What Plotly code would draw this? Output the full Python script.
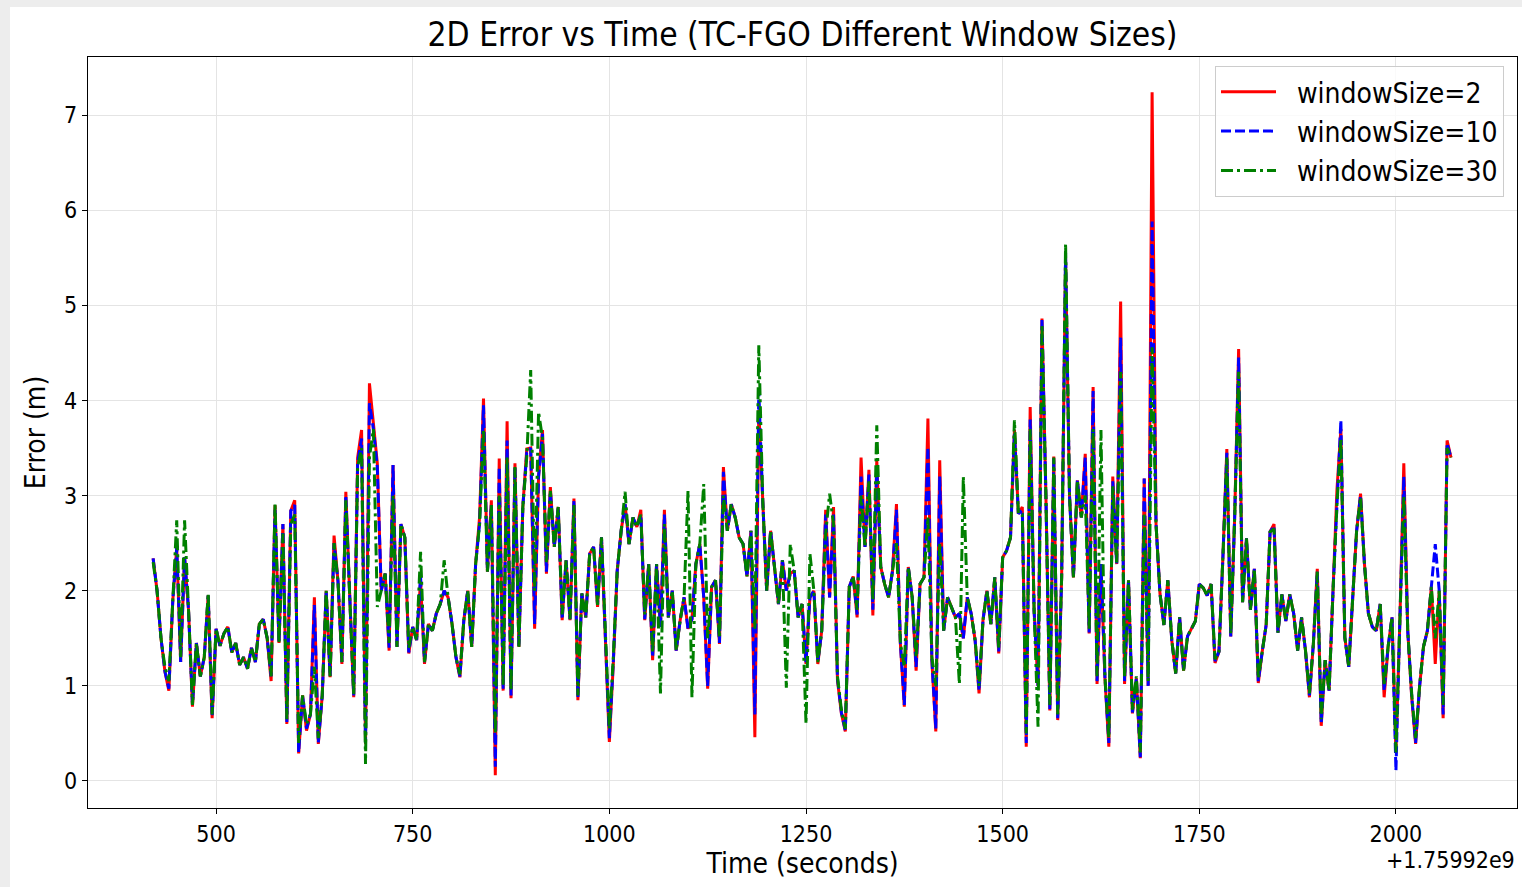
import plotly.graph_objects as go

# time offset from 1.75992e9 (seconds), one sample every 5 s
time_s = list(range(420, 2071, 5))

ws2 = [
    2.34, 2.0, 1.5, 1.15, 0.95, 1.9, 2.45, 1.25, 2.35, 1.8,
    0.78, 1.45, 1.1, 1.3, 1.95, 0.66, 1.6, 1.42, 1.55, 1.62,
    1.35, 1.45, 1.22, 1.3, 1.18, 1.4, 1.25, 1.65, 1.7, 1.5,
    1.05, 2.9, 1.45, 2.7, 0.6, 2.84, 2.95, 0.29, 0.9, 0.53,
    0.7, 1.93, 0.39, 0.9, 2.0, 1.09, 2.58, 2.1, 1.23, 3.04,
    1.93, 0.88, 3.4, 3.69, 0.39, 4.18, 3.76, 3.34, 2.0, 2.18,
    1.37, 3.32, 1.41, 2.7, 2.56, 1.34, 1.62, 1.48, 2.1, 1.23,
    1.65, 1.58, 1.76, 1.86, 2.0, 1.93, 1.65, 1.3, 1.09, 1.69,
    2.0, 1.41, 2.28, 2.77, 4.02, 2.2, 2.95, 0.06, 3.39, 0.95,
    3.78, 0.87, 3.34, 1.41, 2.88, 3.49, 3.5, 1.6, 3.2, 3.69,
    2.18, 3.09, 2.46, 2.88, 1.69, 2.32, 1.69, 2.97, 0.85, 1.97,
    1.72, 2.39, 2.46, 1.83, 2.56, 1.41, 0.41, 1.23, 2.21, 2.63,
    2.91, 2.49, 2.77, 2.67, 2.85, 1.69, 2.28, 1.27, 2.28, 1.62,
    2.85, 1.72, 2.0, 1.37, 1.69, 1.93, 1.6, 1.7, 2.28, 2.49,
    1.93, 0.97, 2.04, 2.11, 1.44, 3.3, 2.63, 2.91, 2.77, 2.56,
    2.49, 2.15, 2.63, 0.46, 3.9, 2.95, 2.0, 2.63, 2.21, 1.86,
    2.32, 2.0, 2.18, 2.21, 1.72, 1.86, 1.23, 1.93, 2.0, 1.23,
    1.58, 2.85, 1.93, 2.88, 1.06, 0.71, 0.52, 2.04, 2.15, 1.72,
    3.4, 2.46, 3.27, 1.74, 3.37, 2.25, 2.07, 1.93, 2.21, 2.91,
    1.44, 0.78, 2.25, 1.93, 1.16, 2.07, 2.14, 3.81, 1.27, 0.52,
    3.37, 1.58, 1.93, 1.83, 1.72, 1.76, 1.5, 1.93, 1.76, 1.48,
    0.92, 1.69, 2.0, 1.65, 2.14, 1.34, 2.35, 2.42, 2.56, 3.69,
    2.81, 2.88, 0.36, 3.93, 1.79, 1.0, 4.86, 3.0, 0.74, 3.41,
    0.64, 2.14, 5.5, 3.0, 2.14, 3.16, 2.77, 3.44, 1.55, 4.14,
    1.02, 2.28, 1.09, 0.36, 3.2, 2.28, 5.04, 1.02, 2.11, 0.71,
    1.08, 0.24, 3.18, 1.0, 7.24, 2.7, 1.97, 1.64, 2.11, 1.48,
    1.13, 1.72, 1.16, 1.52, 1.6, 1.68, 2.07, 2.03, 1.95, 2.07,
    1.24, 1.36, 2.35, 3.49, 1.52, 2.78, 4.54, 1.88, 2.55, 1.8,
    2.23, 1.03, 1.36, 1.64, 2.62, 2.7, 1.56, 1.96, 1.68, 1.96,
    1.76, 1.37, 1.72, 1.37, 0.88, 1.44, 2.23, 0.58, 1.27, 0.95,
    2.0, 3.06, 3.7, 1.51, 1.2, 1.93, 2.63, 3.02, 2.28, 1.76,
    1.62, 1.58, 1.86, 0.88, 1.41, 1.72, 0.3, 1.69, 3.34, 1.58,
    0.88, 0.39, 0.99, 1.41, 1.58, 2.04, 1.23, 2.0, 0.66, 3.58,
    3.4,
]

ws10 = [
    2.34, 2.0, 1.5, 1.15, 0.97, 1.9, 2.45, 1.25, 2.35, 1.8,
    0.8, 1.45, 1.1, 1.3, 1.95, 0.68, 1.6, 1.42, 1.55, 1.62,
    1.35, 1.45, 1.22, 1.3, 1.18, 1.4, 1.25, 1.65, 1.7, 1.5,
    1.1, 2.85, 1.45, 2.7, 0.62, 2.84, 2.9, 0.3, 0.9, 0.55,
    0.7, 1.85, 0.4, 0.9, 2.0, 1.1, 2.5, 2.1, 1.25, 3.0,
    1.93, 0.9, 3.35, 3.6, 0.4, 3.97, 3.7, 3.3, 2.0, 2.18,
    1.4, 3.32, 1.41, 2.7, 2.56, 1.35, 1.62, 1.48, 2.15, 1.25,
    1.65, 1.58, 1.76, 1.86, 2.0, 1.93, 1.65, 1.3, 1.1, 1.69,
    2.0, 1.41, 2.28, 2.7, 3.95, 2.2, 2.9, 0.15, 3.3, 0.97,
    3.58, 0.9, 3.3, 1.41, 2.88, 3.45, 3.5, 1.65, 3.2, 3.65,
    2.2, 3.05, 2.46, 2.88, 1.7, 2.32, 1.7, 2.95, 0.87, 1.97,
    1.72, 2.39, 2.46, 1.85, 2.56, 1.43, 0.45, 1.25, 2.21, 2.63,
    2.91, 2.49, 2.77, 2.67, 2.8, 1.7, 2.28, 1.3, 2.28, 1.62,
    2.8, 1.72, 2.0, 1.37, 1.69, 1.93, 1.6, 1.7, 2.28, 2.49,
    1.93, 1.0, 2.04, 2.11, 1.45, 3.25, 2.63, 2.91, 2.77, 2.56,
    2.49, 2.15, 2.63, 0.7, 4.1, 2.95, 2.0, 2.63, 2.21, 1.86,
    2.32, 2.0, 2.18, 2.21, 1.72, 1.86, 1.25, 1.93, 2.0, 1.25,
    1.58, 2.8, 1.93, 2.8, 1.08, 0.72, 0.53, 2.04, 2.15, 1.75,
    3.2, 2.46, 3.22, 1.8, 3.3, 2.25, 2.07, 1.93, 2.21, 2.85,
    1.45, 0.8, 2.25, 1.93, 1.2, 2.07, 2.14, 3.51, 1.28, 0.55,
    3.2, 1.58, 1.93, 1.83, 1.72, 1.76, 1.5, 1.93, 1.76, 1.48,
    0.95, 1.69, 2.0, 1.65, 2.14, 1.36, 2.35, 2.42, 2.56, 3.65,
    2.81, 2.85, 0.4, 3.8, 1.79, 1.0, 4.86, 3.0, 0.75, 3.4,
    0.66, 2.14, 5.55, 3.0, 2.14, 3.16, 2.77, 3.4, 1.56, 4.1,
    1.05, 2.28, 1.1, 0.4, 3.15, 2.28, 4.66, 1.05, 2.11, 0.72,
    1.08, 0.25, 3.18, 1.0, 5.88, 2.7, 1.97, 1.64, 2.11, 1.48,
    1.13, 1.72, 1.16, 1.52, 1.6, 1.68, 2.07, 2.03, 1.95, 2.07,
    1.26, 1.36, 2.35, 3.45, 1.52, 2.78, 4.45, 1.88, 2.55, 1.8,
    2.23, 1.05, 1.36, 1.64, 2.62, 2.68, 1.56, 1.96, 1.68, 1.96,
    1.76, 1.37, 1.72, 1.37, 0.9, 1.44, 2.2, 0.6, 1.27, 0.95,
    2.0, 2.95, 3.79, 1.51, 1.2, 1.93, 2.63, 3.0, 2.28, 1.76,
    1.62, 1.58, 1.86, 0.95, 1.41, 1.72, 0.11, 1.69, 3.2, 1.58,
    0.9, 0.4, 0.99, 1.41, 1.58, 2.04, 2.49, 2.0, 0.7, 3.55,
    3.4,
]

ws30 = [
    2.3, 2.0, 1.5, 1.2, 1.05, 1.9, 2.74, 1.3, 2.74, 1.8,
    0.8, 1.45, 1.1, 1.3, 1.97, 0.7, 1.6, 1.42, 1.55, 1.62,
    1.35, 1.45, 1.22, 1.3, 1.18, 1.4, 1.25, 1.65, 1.7, 1.5,
    1.1, 2.92, 1.45, 2.6, 0.65, 2.7, 2.8, 0.4, 0.9, 0.6,
    0.7, 1.2, 0.45, 0.9, 2.0, 1.1, 2.5, 2.1, 1.25, 2.95,
    1.93, 0.9, 3.3, 3.5, 0.18, 3.4, 3.7, 1.83, 2.0, 2.18,
    1.45, 3.0, 1.41, 2.7, 2.56, 1.4, 1.62, 1.48, 2.41, 1.25,
    1.65, 1.58, 1.76, 1.86, 2.32, 1.93, 1.65, 1.3, 1.12, 1.69,
    2.0, 1.41, 2.28, 2.7, 3.7, 2.2, 2.9, 0.5, 3.0, 1.0,
    3.4, 0.95, 3.3, 1.41, 2.88, 3.4, 4.32, 2.0, 3.88, 3.6,
    2.3, 3.05, 2.46, 2.88, 1.75, 2.32, 1.7, 2.9, 0.9, 1.97,
    1.72, 2.39, 2.46, 1.85, 2.56, 1.45, 0.55, 1.3, 2.21, 2.63,
    3.04, 2.49, 2.77, 2.67, 2.8, 1.75, 2.28, 1.35, 2.28, 0.92,
    2.7, 1.72, 2.0, 1.37, 1.69, 1.93, 3.05, 0.88, 2.28, 2.49,
    3.12, 1.5, 2.04, 2.11, 1.5, 3.0, 2.63, 2.91, 2.77, 2.56,
    2.49, 2.15, 2.63, 1.6, 4.58, 2.95, 2.0, 2.63, 2.21, 1.86,
    2.32, 0.98, 2.49, 2.21, 1.72, 1.86, 0.6, 2.39, 2.0, 1.25,
    1.58, 2.6, 3.02, 2.7, 1.1, 0.75, 0.55, 2.04, 2.15, 1.8,
    3.0, 2.46, 3.15, 1.9, 3.74, 2.25, 2.07, 1.93, 2.21, 2.5,
    1.45, 1.2, 2.25, 1.93, 1.3, 2.07, 2.14, 2.77, 1.3, 1.0,
    2.5, 1.58, 1.93, 1.83, 1.72, 1.02, 3.2, 1.93, 1.76, 1.48,
    1.0, 1.69, 2.0, 1.65, 2.14, 1.4, 2.35, 2.42, 2.56, 3.79,
    2.81, 2.8, 0.5, 3.7, 1.79, 0.57, 4.8, 3.0, 0.8, 3.4,
    0.7, 2.14, 5.65, 3.0, 2.14, 3.16, 2.77, 3.0, 1.6, 3.7,
    1.1, 3.69, 1.1, 0.45, 3.1, 2.28, 4.3, 1.1, 2.11, 0.75,
    1.1, 0.3, 2.8, 1.05, 4.56, 2.7, 1.97, 1.64, 2.11, 1.48,
    1.13, 1.72, 1.16, 1.52, 1.6, 1.68, 2.07, 2.03, 1.95, 2.07,
    1.28, 1.36, 2.35, 3.4, 1.55, 2.78, 4.3, 1.88, 2.55, 1.8,
    2.23, 1.08, 1.36, 1.64, 2.62, 2.65, 1.56, 1.96, 1.68, 1.96,
    1.76, 1.37, 1.72, 1.37, 0.92, 1.44, 2.2, 0.65, 1.27, 0.95,
    2.0, 2.9, 3.6, 1.51, 1.2, 1.93, 2.63, 2.98, 2.28, 1.76,
    1.62, 1.58, 1.86, 1.0, 1.41, 1.72, 0.3, 1.69, 3.0, 1.58,
    0.92, 0.45, 0.99, 1.41, 1.58, 2.04, 1.5, 2.0, 0.8, 3.5,
    3.4,
]

series_names = ["windowSize=2", "windowSize=10", "windowSize=30"]
x_tick_vals = [500, 750, 1000, 1250, 1500, 1750, 2000]
y_tick_vals = [0, 1, 2, 3, 4, 5, 6, 7]
offset_label = "+1.75992e9"

FONT = "DejaVu Sans Condensed, DejaVu Sans"
W, H = 1522, 887
L, R, T, B = 88, 5, 57, 79
pw, ph = W - L - R, H - T - B
GAP = "\u00a0\u00a0"

fig = go.Figure()
fig.add_trace(go.Scatter(x=time_s, y=ws2, mode="lines", name=GAP + series_names[0],
                         line=dict(color="#ff0000", width=3)))
fig.add_trace(go.Scatter(x=time_s, y=ws10, mode="lines", name=GAP + series_names[1],
                         line=dict(color="#0000ff", width=3, dash="10px,4px")))
fig.add_trace(go.Scatter(x=time_s, y=ws30, mode="lines", name=GAP + series_names[2],
                         line=dict(color="#008000", width=3, dash="12px,4px,3px,4px")))

# light grey strip at the left/top edge of the figure, white figure body
fig.add_shape(type="rect", xref="paper", yref="paper", layer="below",
              x0=(10 - L) / pw, x1=(W + 20 - L) / pw,
              y0=-(B + 20) / ph, y1=(H - B - 7) / ph,
              fillcolor="white", line=dict(width=0))

fig.update_layout(
    width=W, height=H,
    margin=dict(l=L, r=R, t=T, b=B),
    paper_bgcolor="#ededed",
    plot_bgcolor="white",
    font=dict(family=FONT, color="black"),
    title=dict(text="2D Error vs Time (TC-FGO Different Window Sizes)",
               x=(L + pw / 2) / W, xanchor="center", y=1 - 34 / H, yanchor="middle",
               font=dict(size=33.3, family=FONT, color="black")),
    legend=dict(x=(1504 - L) / pw, xanchor="right", y=(H - B - 66) / ph, yanchor="top",
                bgcolor="rgba(255,255,255,0.8)", bordercolor="#cccccc", borderwidth=1,
                font=dict(size=28, family=FONT), itemwidth=55, tracegroupgap=0),
    xaxis=dict(range=[337.2, 2153.9], tickvals=x_tick_vals, ticks="outside", ticklen=5,
               tickwidth=1.2, tickcolor="black", showline=True, linecolor="black",
               linewidth=1.3, mirror=True, showgrid=True, gridcolor="#e4e4e4", gridwidth=1.2,
               zeroline=False, tickfont=dict(size=23, family=FONT),
               title=dict(text="Time (seconds)", font=dict(size=28, family=FONT), standoff=6)),
    yaxis=dict(range=[-0.284, 7.61], tickvals=y_tick_vals, ticks="outside", ticklen=5,
               tickwidth=1.2, tickcolor="black", showline=True, linecolor="black",
               linewidth=1.3, mirror=True, showgrid=True, gridcolor="#e4e4e4", gridwidth=1.2,
               zeroline=False, tickfont=dict(size=23, family=FONT),
               title=dict(text="Error (m)", font=dict(size=28, family=FONT), standoff=10)),
    showlegend=True,
)

fig.add_annotation(text=offset_label, xref="paper", yref="paper", x=1.0, xanchor="right",
                   y=-(860 - (H - B)) / ph, yanchor="middle", showarrow=False,
                   font=dict(size=23, family=FONT, color="black"))

fig.write_html("out.html")
